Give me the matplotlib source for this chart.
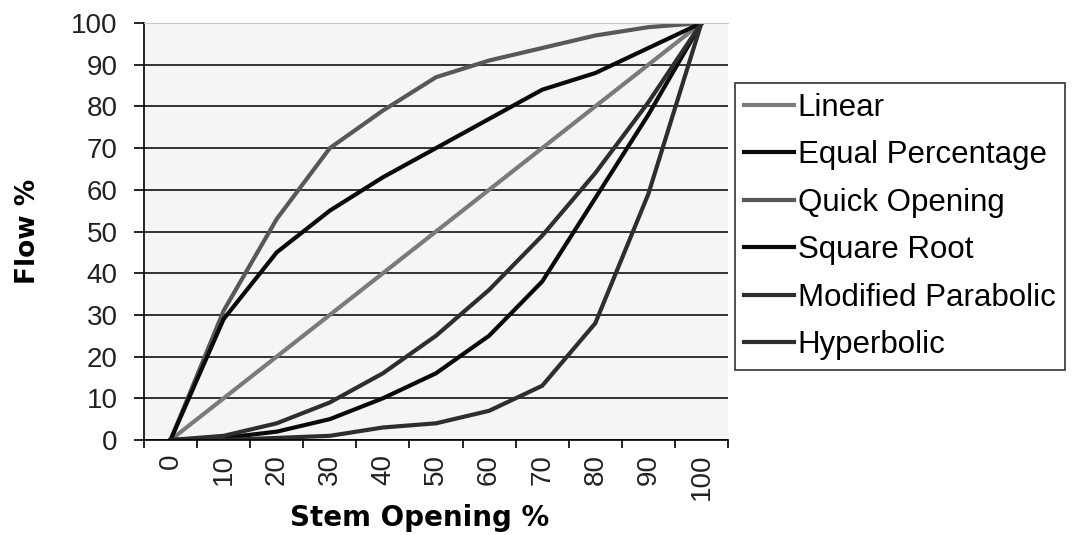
import numpy as np
import matplotlib
matplotlib.use("Agg")
import matplotlib.pyplot as plt

# stem opening categories and flow values
stem = [0, 10, 20, 30, 40, 50, 60, 70, 80, 90, 100]
linear = [0, 10, 20, 30, 40, 50, 60, 70, 80, 90, 100]
equal_pct = [0, 0.5, 2, 5, 10, 16, 25, 38, 58, 78, 100]
quick_open = [0, 31, 53, 70, 79, 87, 91, 94, 97, 99, 100]
square_root = [0, 29, 45, 55, 63, 70, 77, 84, 88, 94, 100]
mod_parabolic = [0, 1, 4, 9, 16, 25, 36, 49, 64, 81, 100]
hyperbolic = [0, 0, 0.5, 1, 3, 4, 7, 13, 28, 59, 100]

series = [
    ("Linear", linear, "#7a7a7a"),
    ("Equal Percentage", equal_pct, "#0a0a0a"),
    ("Quick Opening", quick_open, "#585858"),
    ("Square Root", square_root, "#0a0a0a"),
    ("Modified Parabolic", mod_parabolic, "#2e2e2e"),
    ("Hyperbolic", hyperbolic, "#2e2e2e"),
]

plt.rcParams['font.family'] = ['Liberation Sans', 'DejaVu Sans']

W, H = 1073, 535
fig = plt.figure(figsize=(W / 100, H / 100), dpi=100)
left, right, top, bottom = 144, 728, 23, 440
ax = fig.add_axes([left / W, 1 - bottom / H, (right - left) / W, (bottom - top) / H])
ax.set_facecolor("#f5f5f5")

xpos = np.arange(len(stem))
for name, vals, col in series:
    ax.plot(xpos, vals, color=col, lw=3, label=name, solid_joinstyle="round")

ax.set_xlim(-0.5, len(stem) - 0.5)
ax.set_ylim(0, 100)
ax.set_yticks(range(0, 101, 10))
ax.yaxis.grid(True, color="#111111", lw=1.2)
ax.set_axisbelow(True)
ax.tick_params(axis="y", length=7, width=1.2, color="black", pad=12, labelsize=20,
               labelcolor="#222222")

# category axis: ticks between categories, labels at centres
ax.set_xticks(np.arange(-0.5, len(stem), 1))
ax.set_xticklabels([])
ax.set_xticks(xpos, minor=True)
ax.set_xticklabels([str(s) for s in stem], minor=True, rotation=90, fontsize=20,
                   color="#222222")
ax.tick_params(axis="x", which="major", length=6, width=1.2, color="black")
ax.tick_params(axis="x", which="minor", length=0, pad=10)

ax.spines["left"].set_color("black")
ax.spines["left"].set_linewidth(1.2)
ax.spines["bottom"].set_color("black")
ax.spines["bottom"].set_linewidth(1.2)
ax.spines["top"].set_color("#c8c8c8")
ax.spines["right"].set_visible(False)

fig.text(420 / W, 1 - 518 / H, "Stem Opening %", fontsize=20, fontweight="bold",
         family="DejaVu Sans", ha="center", va="center")
ax.set_ylabel("Flow %", fontsize=19, fontweight="bold", family="DejaVu Sans", labelpad=22)

leg = fig.legend(loc="center left", bbox_to_anchor=(735 / W, 1 - 226.5 / H),
                 fontsize=22.5, frameon=True, fancybox=False, edgecolor="black",
                 handlelength=1.6, handletextpad=0.1, labelspacing=0.56,
                 borderpad=0.3, borderaxespad=0)
leg.get_frame().set_linewidth(1.2)

fig.savefig("out.png", dpi=100, facecolor="white")
